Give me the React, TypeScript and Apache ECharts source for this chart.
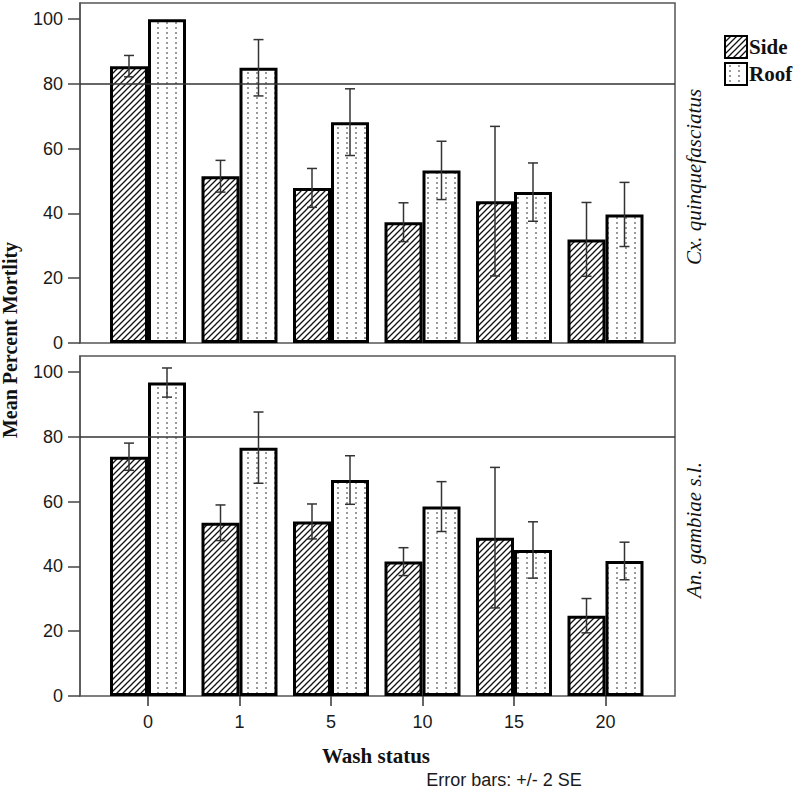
import React, { useEffect, useRef } from "react";
import * as echarts from "echarts";

const categories = ["0", "1", "5", "10", "15", "20"];
// Cx. quinquefasciatus panel
const cxSide = [85.5, 51.5, 47.9, 37.3, 43.8, 32.0];
const cxSideErr = [3.3, 4.9, 6.0, 6.0, 23.1, 11.4];
const cxRoof = [100, 85.0, 68.2, 53.3, 46.6, 39.7];
const cxRoofErr = [0, 8.7, 10.3, 9.0, 9.0, 9.9];
// An. gambiae s.l. panel
const anSide = [73.9, 53.5, 53.9, 41.5, 48.9, 24.8];
const anSideErr = [4.2, 5.5, 5.4, 4.3, 21.7, 5.3];
const anRoof = [96.8, 76.7, 66.7, 58.5, 45.1, 41.7];
const anRoofErr = [4.5, 11.0, 7.5, 7.7, 8.7, 5.8];
const yTicks = [0, 20, 40, 60, 80, 100];
const refLine = 80;
const yMax = 105;

const SERIF = '"Liberation Serif", "DejaVu Serif", serif';
const SANS = '"Liberation Sans", Arial, sans-serif';
const BAR_W = 38;

function makeHatch() {
  const c = document.createElement("canvas");
  const s = 6;
  c.width = s;
  c.height = s;
  const g = c.getContext("2d")!;
  g.fillStyle = "#fff";
  g.fillRect(0, 0, s, s);
  g.strokeStyle = "#111";
  g.lineWidth = 1.3;
  g.beginPath();
  g.moveTo(-1, s + 1);
  g.lineTo(s + 1, -1);
  g.moveTo(-1, 1);
  g.lineTo(1, -1);
  g.moveTo(s - 1, s + 1);
  g.lineTo(s + 1, s - 1);
  g.stroke();
  return { image: c, repeat: "repeat", imageWidth: s, imageHeight: s };
}

function makeDots() {
  const c = document.createElement("canvas");
  c.width = 9;
  c.height = 5;
  const g = c.getContext("2d")!;
  g.fillStyle = "#fff";
  g.fillRect(0, 0, 9, 5);
  g.fillStyle = "#9a9a9a";
  g.fillRect(4, 2, 2, 2);
  return { image: c, repeat: "repeat", imageWidth: 9, imageHeight: 5 };
}

function errSeries(xi: number, vals: number[], errs: number[], sign: number) {
  return {
    type: "custom",
    xAxisIndex: xi,
    yAxisIndex: xi,
    z: 4,
    silent: true,
    encode: { x: 0, y: 1 },
    data: vals.map((v, i) => [i, v, errs[i]]),
    renderItem: (params: any, api: any) => {
      const c = api.value(0);
      const v = api.value(1);
      const e = api.value(2);
      if (!e) return null;
      const top = api.coord([c, v + e]);
      const bot = api.coord([c, v - e]);
      const x = top[0] + sign * (BAR_W / 2);
      const st = { stroke: "#333", lineWidth: 1.5 };
      return {
        type: "group",
        children: [
          { type: "line", shape: { x1: x, y1: top[1], x2: x, y2: bot[1] }, style: st },
          { type: "line", shape: { x1: x - 5, y1: top[1], x2: x + 5, y2: top[1] }, style: st },
          { type: "line", shape: { x1: x - 5, y1: bot[1], x2: x + 5, y2: bot[1] }, style: st },
        ],
      };
    },
  };
}

export default function App() {
  const ref = useRef<HTMLDivElement>(null);
  useEffect(() => {
    document.body.style.margin = "0";
    const chart = echarts.init(ref.current!, null, { renderer: "svg" });
    const hatch = makeHatch();
    const dots = makeDots();
    const frameY = (gi: number) => ({
      gridIndex: gi,
      type: "value",
      min: 0,
      max: yMax,
      interval: 20,
      axisLine: { show: true, lineStyle: { color: "#555", width: 1.5 } },
      axisTick: { show: true, length: 12, customValues: yTicks, lineStyle: { color: "#444", width: 1.5 } },
      axisLabel: { margin: 17, customValues: yTicks, fontSize: 18, fontFamily: SANS, color: "#1a1a1a" },
      splitLine: { show: false },
    });
    const dataY = (gi: number) => ({ gridIndex: gi, type: "value", min: 0, max: yMax, show: false, splitLine: { show: false } });
    const barSeries = (xi: number, name: string, vals: number[], pattern: any) => ({
      type: "bar",
      name,
      xAxisIndex: xi,
      yAxisIndex: xi,
      data: vals,
      barWidth: BAR_W,
      barGap: "0%",
      z: 2,
      itemStyle: { color: pattern, borderColor: "#000", borderWidth: 3 },
      emphasis: { disabled: true },
    });
    const refSeries = (xi: number) => ({
      type: "line",
      name: "ref",
      xAxisIndex: xi,
      yAxisIndex: xi,
      data: [[0, refLine], [1, refLine]],
      symbol: "none",
      silent: true,
      z: 5,
      lineStyle: { color: "#333", width: 1.5 },
    });
    chart.setOption({
      animation: false,
      backgroundColor: "#fff",
      grid: [
        { left: 80, top: 3, width: 595, height: 340, show: true, borderColor: "#555", borderWidth: 1.5, backgroundColor: "transparent" },
        { left: 102.25, top: 3, width: 549, height: 340 },
        { left: 80, top: 356, width: 595, height: 340, show: true, borderColor: "#555", borderWidth: 1.5, backgroundColor: "transparent" },
        { left: 102.25, top: 356, width: 549, height: 340 },
      ],
      xAxis: [
        { gridIndex: 0, type: "value", min: 0, max: 1, show: false },
        { gridIndex: 1, type: "category", data: categories, axisLine: { show: false }, axisTick: { show: false }, axisLabel: { show: false } },
        { gridIndex: 2, type: "value", min: 0, max: 1, show: false },
        {
          gridIndex: 3,
          type: "category",
          data: categories,
          axisLine: { show: false },
          axisTick: { show: true, alignWithLabel: true, length: 10, lineStyle: { color: "#333", width: 1.5 } },
          axisLabel: { margin: 17, fontSize: 18, fontFamily: SANS, color: "#1a1a1a" },
        },
      ],
      yAxis: [frameY(0), dataY(1), frameY(2), dataY(3)],
      legend: {
        data: ["Side", "Roof"],
        orient: "vertical",
        left: 724,
        top: 35,
        padding: 0,
        itemWidth: 22,
        itemHeight: 22,
        itemGap: 3,
        icon: "rect",
        itemStyle: { borderWidth: 2, borderColor: "#000" },
        textStyle: { fontFamily: SERIF, fontWeight: "bold", fontSize: 21, color: "#111", padding: [0, 0, 0, -3] },
        selectedMode: false,
      },
      series: [
        refSeries(0),
        barSeries(1, "Side", cxSide, hatch),
        barSeries(1, "Roof", cxRoof, dots),
        errSeries(1, cxSide, cxSideErr, -1),
        errSeries(1, cxRoof, cxRoofErr, 1),
        refSeries(2),
        barSeries(3, "Side", anSide, hatch),
        barSeries(3, "Roof", anRoof, dots),
        errSeries(3, anSide, anSideErr, -1),
        errSeries(3, anRoof, anRoofErr, 1),
      ],
      graphic: [
        {
          type: "text", x: 10, y: 340, rotation: Math.PI / 2,
          style: { text: "Mean Percent Mortlity", font: `bold 20px ${SERIF}`, fill: "#111", align: "center", verticalAlign: "middle" },
        },
        {
          type: "text", x: 694, y: 177, rotation: Math.PI / 2,
          style: { text: "Cx. quinquefasciatus", font: `italic 21px ${SERIF}`, fill: "#111", align: "center", verticalAlign: "middle" },
        },
        {
          type: "text", x: 694, y: 530, rotation: Math.PI / 2,
          style: { text: "An. gambiae s.l.", font: `italic 21px ${SERIF}`, fill: "#111", align: "center", verticalAlign: "middle" },
        },
        {
          type: "text", x: 376, y: 756,
          style: { text: "Wash status", font: `bold 21px ${SERIF}`, fill: "#111", align: "center", verticalAlign: "middle" },
        },
        {
          type: "text", x: 504, y: 780,
          style: { text: "Error bars: +/- 2 SE", font: `18px ${SANS}`, fill: "#1a1a1a", align: "center", verticalAlign: "middle" },
        },
      ],
    });
    return () => chart.dispose();
  }, []);
  return <div ref={ref} style={{ width: 797, height: 794 }} />;
}
